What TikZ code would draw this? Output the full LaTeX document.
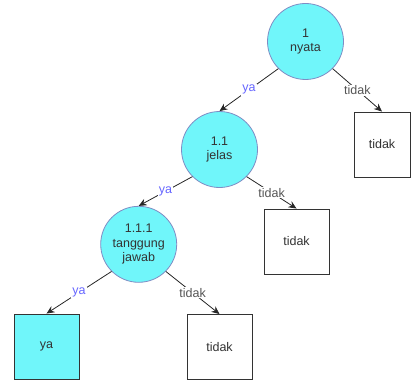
\documentclass[tikz,border=0pt]{standalone}
\usepackage{fontspec}
\setmainfont{Liberation Sans}
\usetikzlibrary{arrows.meta}
\definecolor{nodecyan}{HTML}{70F6FA}
\definecolor{circleline}{HTML}{7F8CC4}
\definecolor{boxline}{HTML}{333333}
\definecolor{txt}{HTML}{333333}
\definecolor{yablue}{HTML}{6666FF}
\definecolor{tidakgray}{HTML}{555555}
\tikzset{
  decision/.style={circle, draw=circleline, fill=nodecyan, line width=0.8pt,
    minimum size=76pt, inner sep=0pt, align=center, text=txt,
    font=\fontsize{12.5}{14.5}\selectfont},
  leaf/.style={rectangle, draw=boxline, line width=0.9pt, fill=white,
    minimum width=65pt, minimum height=65pt, inner sep=0pt, text=txt,
    font=\fontsize{12.5}{14.5}\selectfont},
  link/.style={draw=black!85, line width=0.8pt, -{Stealth[length=8pt,width=7pt]}},
  yalabel/.style={fill=white, inner sep=1pt, text=yablue, font=\fontsize{12.5}{14}\selectfont},
  tidaklabel/.style={fill=white, inner sep=1pt, text=tidakgray, font=\fontsize{12.5}{14}\selectfont}
}
\begin{document}
\begin{tikzpicture}[x=1pt,y=-1pt]
  \useasboundingbox (0,0) rectangle (411,382);

  % decision nodes
  \node[decision] (n1)   at (305.5,41.5)  {1\\nyata};
  \node[decision] (n11)  at (219.5,149.5) {1.1\\jelas};
  \node[decision] (n111) at (138.7,244.3) {1.1.1\\tanggung\\jawab};

  % outcome boxes
  \node[leaf, minimum width=56pt] (t1) at (382,144.5) {tidak};
  \node[leaf] (t2)   at (296.5,241.5) {tidak};
  \node[leaf, fill=nodecyan] (ya) at (46.5,346.5) {ya};
  \node[leaf] (t3)   at (219.5,347) {tidak};

  % branches
  \draw[link] (n1.south west) -- node[yalabel] {ya} (n11.north);
  \draw[link] (n1.south east) -- node[tidaklabel] {tidak} (t1.north);
  \draw[link] (n11.south west) -- node[yalabel] {ya} (n111.north);
  \draw[link] (n11.south east) -- node[tidaklabel] {tidak} (t2.north);
  \draw[link] (n111.south west) -- node[yalabel] {ya} (ya.north);
  \draw[link] (n111.south east) -- node[tidaklabel] {tidak} (t3.north);
\end{tikzpicture}
\end{document}
